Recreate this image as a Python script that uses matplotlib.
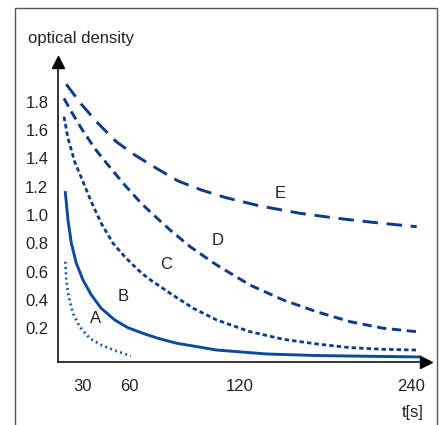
import numpy as np
import matplotlib.pyplot as plt
from matplotlib.patches import Rectangle

plt.rcParams['font.family'] = ['Liberation Sans', 'DejaVu Sans']

# curves: time [s] and optical density
t_a = [8.8, 10.0, 12.8, 18.0, 26.0, 34.4, 41.9, 51.7, 60.9]
od_a = [0.669, 0.540, 0.422, 0.304, 0.209, 0.127, 0.080, 0.037, 0.002]

t_b = [8.8, 12.0, 16.0, 22.0, 30.0, 35.4, 41.9, 50.7, 59.3, 68.5, 75.7, 85.8,
       107.4, 138.7, 173.8, 208.8, 246.3]
od_b = [1.159, 0.965, 0.800, 0.658, 0.540, 0.434, 0.339, 0.257, 0.202, 0.158,
        0.127, 0.092, 0.044, 0.016, 0.005, 0.0, -0.005]

t_c = [7.2, 12.0, 20.0, 30.0, 35.4, 41.9, 49.6, 57.2, 64.9, 70.3, 82.2, 94.8,
       107.4, 127.0, 150.4, 173.8, 197.2, 220.6, 244.0]
od_c = [1.696, 1.543, 1.377, 1.236, 1.094, 0.941, 0.800, 0.705, 0.611, 0.552,
        0.446, 0.339, 0.257, 0.174, 0.120, 0.087, 0.061, 0.049, 0.044]

t_d = [7.2, 16.0, 28.0, 37.6, 46.3, 57.2, 66.6, 72.3, 82.2, 93.0, 107.4, 127.0,
       150.4, 173.8, 197.2, 220.6, 244.0]
od_d = [1.826, 1.731, 1.614, 1.472, 1.354, 1.212, 1.083, 1.012, 0.894, 0.776,
        0.646, 0.504, 0.398, 0.315, 0.245, 0.198, 0.174]

t_e = [10.0, 28.0, 39.8, 51.7, 63.1, 74.8, 86.5, 99.1, 112.6, 134.0, 162.1,
       187.9, 215.9, 244.0]
od_e = [1.925, 1.784, 1.649, 1.519, 1.425, 1.331, 1.241, 1.177, 1.122, 1.064,
        1.012, 0.977, 0.945, 0.917]

curve_names = ['A', 'B', 'C', 'D', 'E']
label_t = [38.0, 56.1, 80.0, 107.7, 148.1]
label_od = [0.269, 0.42, 0.653, 0.816, 1.149]

x_ticks = [30, 60, 120, 240]
y_ticks = [0.2, 0.4, 0.6, 0.8, 1.0, 1.2, 1.4, 1.6, 1.8]

# the time axis of the sketch is not linear
knot_t = np.array([0, 30, 60, 120, 240, 300])
knot_p = np.array([0, 25, 71, 182, 353, 438.5])

def fwd(t):
    return np.interp(t, knot_t, knot_p)

def inv(p):
    return np.interp(p, knot_p, knot_t)

fig = plt.figure(figsize=(4.46, 4.25), dpi=100)
ax = fig.add_axes([58/446, (425-362)/425, (426-58)/446, (362-62)/425])
ax.set_xscale('function', functions=(fwd, inv))
ax.set_xlim(0, inv(368))
ax.set_ylim(-5.75/141.25, (356.25-62)/141.25)

c_dark = '#0c3b86'
ax.plot(t_a, od_a, color='#1a58ac', lw=2.0, dashes=(0.7, 1.2))
ax.plot(t_b, od_b, color='#0b4a9c', lw=2.1, solid_joinstyle='round')
ax.plot(t_c, od_c, color=c_dark, lw=2.0, dashes=(1.6, 1.1))
ax.plot(t_d, od_d, color=c_dark, lw=2.1, dashes=(3.2, 1.9))
ax.plot(t_e, od_e, color=c_dark, lw=2.1, dashes=(5.3, 3.0))

for name, tx, ty in zip(curve_names, label_t, label_od):
    ax.text(tx, ty, name, fontsize=12, color='#222222', ha='center', va='center')

for s in ['top', 'right']:
    ax.spines[s].set_visible(False)
for s in ['left', 'bottom']:
    ax.spines[s].set_linewidth(1.1)
ax.plot(1, 0, '>', color='black', ms=9, transform=ax.transAxes, clip_on=False)
ax.plot(0, 1, '^', color='black', ms=9, transform=ax.transAxes, clip_on=False)

ax.set_xticks(x_ticks)
ax.set_xticklabels([str(v) for v in x_ticks])
ax.set_yticks(y_ticks)
ax.set_yticklabels(['%.1f' % v for v in y_ticks])
ax.tick_params(axis='x', length=0, pad=12, labelsize=12, labelcolor='#222222')
ax.tick_params(axis='y', length=0, pad=7, labelsize=12, labelcolor='#222222')
ax.minorticks_off()

fig.text(28/446, 1-39/425, 'optical density', fontsize=12, color='#222222',
         ha='left', va='center')
fig.text(413/446, 1-413/425, 't[s]', fontsize=12, color='#222222',
         ha='center', va='center')

fig.patches.append(Rectangle((15/446, -0.1), (437-15)/446, (425-8)/425 + 0.1,
                             transform=fig.transFigure, fill=False,
                             ec='#555555', lw=1.0))

fig.savefig('out.png', dpi=100)
